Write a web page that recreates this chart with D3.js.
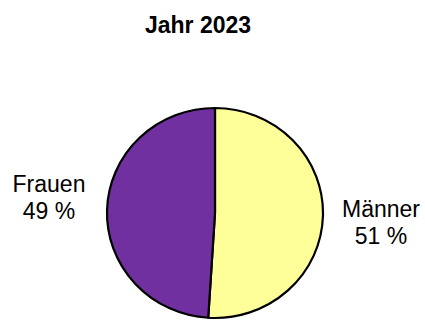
<!DOCTYPE html>
<html><head><meta charset="utf-8">
<script src="https://cdn.jsdelivr.net/npm/d3@7"></script>
<style>html,body{margin:0;padding:0;background:#fff;}svg{display:block;}</style>
</head><body>
<svg id="c" width="425" height="320"></svg>
<script>
const title = "Jahr 2023";
const categories = ["Männer", "Frauen"];
const values = [51, 49];
const labelsPct = ["51 %", "49 %"];
const colors = ["#FFFF99", "#7030A0"];

const svg = d3.select("#c");
const font = "'Liberation Sans', Arial, sans-serif";

svg.append("text").attr("x", 198).attr("y", 33).attr("text-anchor", "middle")
  .attr("font-family", font).attr("font-weight", "bold").attr("font-size", 23)
  .text(title);

const cx = 215, cy = 213, rx = 108, ry = 105;
const pie = d3.pie().sort(null).value(d => d)(values);
const arc = d3.arc().innerRadius(0).outerRadius(rx);
const g = svg.append("g").attr("transform", `translate(${cx},${cy}) scale(1,${ry/rx})`);
g.selectAll("path").data(pie).join("path")
  .attr("d", arc)
  .attr("fill", (d, i) => colors[i])
  .attr("stroke", "#000").attr("stroke-width", 2.2)
  .attr("stroke-linejoin", "round");

const labelPos = [{x: 381, y: 217}, {x: 49, y: 192}];
categories.forEach((c, i) => {
  const t = svg.append("text").attr("text-anchor", "middle")
    .attr("font-family", font).attr("font-size", 23).attr("fill", "#000");
  t.append("tspan").attr("x", labelPos[i].x).attr("y", labelPos[i].y).text(c);
  t.append("tspan").attr("x", labelPos[i].x).attr("y", labelPos[i].y + 27).text(labelsPct[i]);
});
</script>
</body></html>
